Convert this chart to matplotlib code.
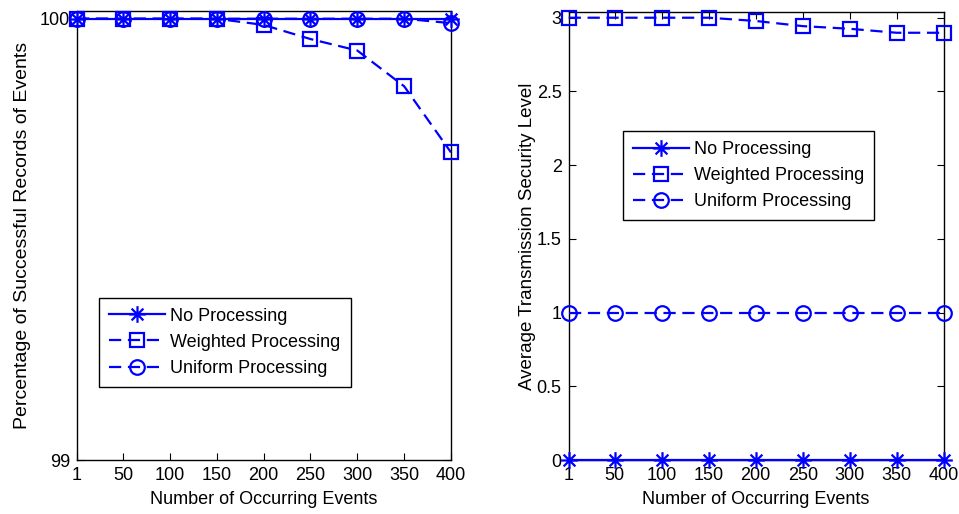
import numpy as np
import matplotlib
matplotlib.use('Agg')
import matplotlib.pyplot as plt
from matplotlib.path import Path

plt.rcParams['font.family'] = ['Liberation Sans', 'DejaVu Sans']

# ------------------------------
# Data
# ------------------------------
events = [1, 50, 100, 150, 200, 250, 300, 350, 400]
x_ticks = [1, 50, 100, 150, 200, 250, 300, 350, 400]

# left panel: percentage of successful records
pct_none = [100, 100, 100, 100, 100, 100, 100, 100, 100]
pct_weighted = [100, 100, 100, 100, 99.986, 99.954, 99.928, 99.847, 99.697]
pct_uniform = [100, 100, 100, 100, 100, 100, 100, 100, 99.99]

# right panel: average transmission security level
sec_none = [0, 0, 0, 0, 0, 0, 0, 0, 0]
sec_weighted = [3, 3, 3, 3, 2.978, 2.943, 2.925, 2.898, 2.898]
sec_uniform = [1, 1, 1, 1, 1, 1, 1, 1, 1]

labels = ['No Processing', 'Weighted Processing', 'Uniform Processing']

BLUE = '#0000ff'
FS = 13

# MATLAB-like asterisk: plus and cross combined
_d = np.sqrt(0.5)
ASTERISK = Path(
    [(0, -1), (0, 1), (-1, 0), (1, 0), (-_d, -_d), (_d, _d), (-_d, _d), (_d, -_d)],
    [Path.MOVETO, Path.LINETO] * 4,
)


def draw_series(ax, none, weighted, uniform):
    ax.plot(events, none, color=BLUE, linestyle='-', marker=ASTERISK,
            markersize=12, markeredgewidth=1.6, lw=1.6, label=labels[0],
            clip_on=False, zorder=3)
    ax.plot(events, weighted, color=BLUE, linestyle=(0, (5.5, 3)), marker='s',
            markersize=10.5, markerfacecolor='none', markeredgewidth=1.6,
            lw=1.6, label=labels[1], clip_on=False, zorder=3)
    ax.plot(events, uniform, color=BLUE, linestyle=(0, (5.5, 3)), marker='o',
            markersize=10.5, markerfacecolor='none', markeredgewidth=1.6,
            lw=1.6, label=labels[2], clip_on=False, zorder=3)


def style_axes(ax):
    ax.set_xlim(1, 400)
    ax.set_xticks(x_ticks)
    ax.tick_params(direction='in', top=True, right=True, labelsize=FS,
                   length=5, width=0.8, pad=5)
    for s in ax.spines.values():
        s.set_linewidth(1.0)
        s.set_color('black')
    ax.set_xlabel('Number of Occurring Events', fontsize=FS, labelpad=5)


def add_legend(ax, loc):
    leg = ax.legend(loc='upper left', bbox_to_anchor=loc, borderaxespad=0,
                    fontsize=FS, handlelength=3.1, handletextpad=0.3,
                    borderpad=0.55, labelspacing=0.5, fancybox=False,
                    framealpha=1, edgecolor='black')
    leg.get_frame().set_linewidth(1.0)


fig = plt.figure(figsize=(9.59, 5.14), dpi=100)

ax1 = fig.add_axes([0.0803, 0.105, 0.390, 0.874])
draw_series(ax1, pct_none, pct_weighted, pct_uniform)
style_axes(ax1)
ax1.set_ylim(99, 100.018)
ax1.set_yticks([99, 100])
ax1.set_yticklabels(['99', '100'])
ax1.set_ylabel('Percentage of Successful Records of Events', fontsize=14, labelpad=6)
add_legend(ax1, (0.059, 0.361))

ax2 = fig.add_axes([0.593, 0.105, 0.391, 0.872])
draw_series(ax2, sec_none, sec_weighted, sec_uniform)
style_axes(ax2)
ax2.set_ylim(0, 3.04)
ax2.set_yticks([0, 0.5, 1, 1.5, 2, 2.5, 3])
ax2.set_yticklabels(['0', '0.5', '1', '1.5', '2', '2.5', '3'])
ax2.set_ylabel('Average Transmission Security Level', fontsize=13.5, labelpad=0.5)
add_legend(ax2, (0.144, 0.734))

fig.savefig('out.png', dpi=100)
